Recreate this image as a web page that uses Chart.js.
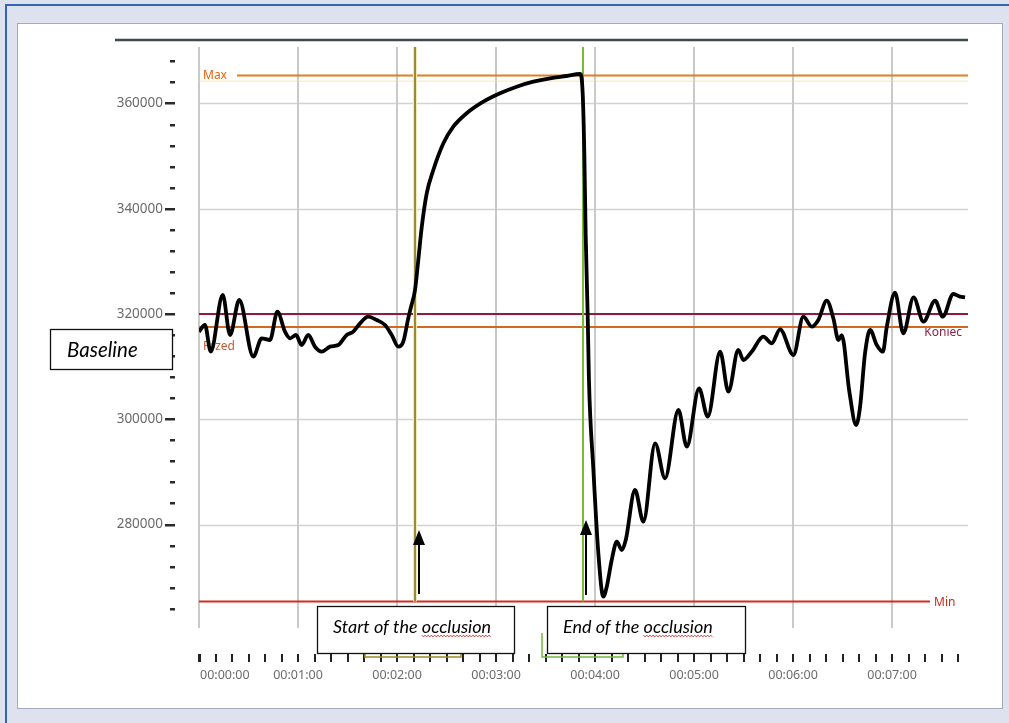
<!DOCTYPE html>
<html><head><meta charset="utf-8">
<script src="https://cdn.jsdelivr.net/npm/chart.js@4.4.1/dist/chart.umd.min.js"></script>
<style>html,body{margin:0;padding:0;background:#dde2ee;}canvas{display:block;}</style>
</head><body><canvas id="c" width="1009" height="723"></canvas>
<script>
// ---- data ----
const timeSec = [0,3.6,7.1,14.4,18.8,24.4,32.9,38,43,47.5,52.1,55.2,58.8,62.2,66.2,70.3,74.4,79.4,84.4,89.5,93.5,97.6,102.6,107.7,112.7,116.8,120.8,123.8,126.8,128.5,130.9,132.9,135,138,142,148.1,154.1,162.2,172.3,182.4,192.5,202.6,212.7,222.8,230.9,232.5,233.5,234.3,235.6,236.3,239,242,245,247.1,250.1,253.2,256.2,258.6,264.2,269.3,276.4,282.4,290.5,295.6,303,308.3,315.8,320.8,326.8,329.9,334.9,342,347.1,352.1,360.2,366.2,371.3,375.3,380.4,384.4,387.5,389.5,394.1,398.2,400.6,403.6,406.7,410.7,414.4,416.8,421.8,426.8,433,439,446.1,450.7,457.1,461.2,464.2];
const signal = [316640,317910,312840,323610,316010,322660,311890,315380,315060,320440,316640,315380,316010,314110,316010,313790,312840,313790,314110,316010,316640,318230,319490,318860,317910,316010,313790,314740,319180,321390,324560,330260,336590,342930,347360,352430,355590,358130,360330,361930,363190,364140,364780,365220,365600,361930,350530,335330,318860,307460,290360,274530,266290,268190,273260,276740,275160,277060,286560,280540,295430,288780,301760,294790,305880,300490,312840,305240,313160,311260,312840,315690,314430,317090,312210,319490,317590,318860,322530,319180,315060,316000,305260,298910,302390,312530,316960,314110,312840,317590,324050,316330,323170,318540,322530,319490,323800,323290,323170];

const xGridSec = [0,60,120,180,240,300,360,420];
const xTickLabels = ['00:00:00','00:01:00','00:02:00','00:03:00','00:04:00','00:05:00','00:06:00','00:07:00'];
const yMajorValues = [280000,300000,320000,340000,360000];
const yTickLabels = ['280000','300000','320000','340000','360000'];
const yMinorValues = [264000,268000,272000,276000,284000,288000,292000,296000,304000,308000,312000,316000,324000,328000,332000,336000,344000,348000,352000,356000,364000,368000];

const levelMax = 365320, levelMin = 265370, levelPrzed = 317530, levelKoniec = 320000;
const occlusionStart = 130.9, occlusionEnd = 232.7;
const xMin = 0, xMax = 466, yMin = 260340, yMax = 370730;

const W = 1009, H = 723;
const FONT = '"Noto Sans", "Open Sans", sans-serif';

function pts(xs, ys){ return xs.map((x,i)=>({x:x, y:ys[i]})); }

const decor = {
  id:'decor',
  beforeDraw(chart){
    const c = chart.ctx;
    c.save();
    c.fillStyle = '#dde2ee'; c.fillRect(0,0,W,H);
    c.strokeStyle = '#3465b3'; c.lineWidth = 2;
    c.beginPath(); c.moveTo(6,H); c.lineTo(6,5); c.lineTo(W,5); c.stroke();
    c.fillStyle = '#ffffff'; c.fillRect(17,23,986,686);
    c.strokeStyle = '#a3abbb'; c.lineWidth = 1; c.strokeRect(17.5,23.5,985,685);
    c.restore();
  },
  beforeDatasetsDraw(chart){
    const c = chart.ctx, xs = chart.scales.x, ys = chart.scales.y, a = chart.chartArea;
    c.save();
    // top dark line
    c.strokeStyle = '#3e494c'; c.lineWidth = 2.5;
    c.beginPath(); c.moveTo(115, a.top-7); c.lineTo(a.right, a.top-7); c.stroke();
    // grid
    c.strokeStyle = '#d2d2d2'; c.lineWidth = 1.6;
    yMajorValues.forEach(v=>{ const y = Math.round(ys.getPixelForValue(v))+0.5; c.beginPath(); c.moveTo(a.left,y); c.lineTo(a.right,y); c.stroke(); });
    c.strokeStyle = '#c9c9c9'; c.lineWidth = 2;
    xGridSec.forEach(t=>{ const x = Math.round(xs.getPixelForValue(t)); c.beginPath(); c.moveTo(x,a.top); c.lineTo(x,a.bottom); c.stroke(); });
    // level labels
    c.font = '12px ' + FONT; c.textBaseline = 'middle';
    c.fillStyle = '#e8620c'; c.textAlign='left';
    c.fillText('Max', a.left+4, ys.getPixelForValue(levelMax));
    c.fillStyle = '#c5592e';
    c.fillText('Przed', a.left+4, ys.getPixelForValue(levelPrzed)+20);
    c.fillStyle = '#8e1f40'; c.textAlign='right';
    c.fillText('Koniec', a.right-6, ys.getPixelForValue(levelPrzed)+6);
    c.fillStyle = '#d02a1a'; c.textAlign='left';
    c.fillText('Min', xs.getPixelForValue(xMax-23)+4, ys.getPixelForValue(levelMin)+1);
    c.restore();
  },
  afterDraw(chart){
    const c = chart.ctx, xs = chart.scales.x, ys = chart.scales.y, a = chart.chartArea;
    c.save();
    // y axis labels and dashes
    c.font = '13.5px ' + FONT; c.fillStyle = '#6b6b6b'; c.textAlign='right'; c.textBaseline='middle';
    yMajorValues.forEach((v,i)=>{
      const y = ys.getPixelForValue(v);
      c.fillText(yTickLabels[i], 163, y);
      c.fillStyle = '#2a2a2a'; c.fillRect(165, Math.round(y)-1, 10, 2.5); c.fillStyle = '#6b6b6b';
    });
    c.fillStyle = '#2a2a2a';
    yMinorValues.forEach(v=>{ const y = ys.getPixelForValue(v); c.fillRect(170, Math.round(y)-1, 5, 2.5); });
    // x axis ticks every 10 s
    c.fillStyle = '#222';
    for (let t=0; t<=460; t+=10){ const x = Math.round(xs.getPixelForValue(t)); c.fillRect(x-1, 654, t===0?3:2, 8); }
    // brackets
    c.lineWidth = 1.5;
    c.strokeStyle = '#a08a1c';
    c.beginPath(); c.moveTo(365,653); c.lineTo(365,657); c.lineTo(461,657); c.lineTo(461,647); c.stroke();
    c.strokeStyle = '#72bb3a';
    c.beginPath(); c.moveTo(542,633); c.lineTo(542,657); c.lineTo(623,657); c.lineTo(623,652); c.stroke();
    // x labels
    c.font = '12.5px ' + FONT; c.fillStyle = '#6b6b6b'; c.textBaseline='middle';
    xGridSec.forEach((t,i)=>{
      const x = xs.getPixelForValue(t);
      if (i===0){ c.textAlign='left'; c.fillText(xTickLabels[i], x+1, 675); }
      else { c.textAlign='center'; c.fillText(xTickLabels[i], x, 675); }
    });
    // arrows
    function arrow(x, y0, y1){
      c.strokeStyle='#000'; c.fillStyle='#000'; c.lineWidth=2;
      c.beginPath(); c.moveTo(x,y0); c.lineTo(x,y1+12); c.stroke();
      c.beginPath(); c.moveTo(x,y1); c.lineTo(x-6,y1+15); c.lineTo(x+6,y1+15); c.closePath(); c.fill();
    }
    arrow(Math.round(xs.getPixelForValue(occlusionStart))+4, 594, 530);
    arrow(Math.round(xs.getPixelForValue(occlusionEnd))+3, 595, 520);
    // boxes
    function box(x,y,w,h,text,tx,ty,size,wavyWord){
      c.fillStyle='#fff'; c.fillRect(x,y,w,h);
      c.strokeStyle='#111'; c.lineWidth=1.3; c.strokeRect(x+0.5,y+0.5,w,h);
      c.font = 'italic ' + size + 'px Lato, "Open Sans", sans-serif';
      c.fillStyle='#000'; c.textAlign='left'; c.textBaseline='alphabetic';
      c.fillText(text, tx, ty);
      if (wavyWord){
        const idx = text.indexOf(wavyWord);
        const sx = tx + c.measureText(text.slice(0,idx)).width;
        const ex = sx + c.measureText(wavyWord).width;
        c.strokeStyle='#d0302a'; c.lineWidth=0.9;
        c.beginPath();
        let up = true;
        for (let px=sx; px<=ex; px+=1.6){ c.lineTo(px, ty+3 + (up?-0.9:0.9)); up=!up; }
        c.stroke();
      }
    }
    box(50,329,122,40,'Baseline',67,357,20.5,null);
    box(317,606,197,47,'Start of the occlusion',333,633,18,'occlusion');
    box(547,606,198,47,'End of the occlusion',563,633,18,'occlusion');
    c.restore();
  }
};

const lvl = (x0,x1,v)=>[{x:x0,y:v},{x:x1,y:v}];

new Chart(document.getElementById('c'), {
  type:'line',
  data:{ datasets:[
    { label:'signal', data: pts(timeSec, signal), borderColor:'#000', borderWidth:3.8, pointRadius:0, cubicInterpolationMode:'monotone', order:0 },
    { label:'maxShadow', data: lvl(0,xMax,levelMax-1100), borderColor:'rgba(246,226,150,0.5)', borderWidth:1.5, pointRadius:0, order:5 },
    { label:'Max', data: lvl(23,xMax,levelMax), borderColor:'#e0801c', borderWidth:2, pointRadius:0, order:4 },
    { label:'Koniec', data: lvl(xMin,xMax,levelKoniec), borderColor:'#8c1c3e', borderWidth:2.2, pointRadius:0, order:4 },
    { label:'Przed', data: lvl(xMin,xMax,levelPrzed), borderColor:'#d4681e', borderWidth:1.8, pointRadius:0, order:4 },
    { label:'Min', data: lvl(xMin,xMax-23,levelMin), borderColor:'#d42b1a', borderWidth:2, pointRadius:0, order:4 },
    { label:'startHalo', data:[{x:occlusionStart,y:yMax},{x:occlusionStart,y:levelMin}], borderColor:'#f3eab8', borderWidth:4, pointRadius:0, order:3 },
    { label:'start', data:[{x:occlusionStart,y:yMax},{x:occlusionStart,y:levelMin}], borderColor:'#7c6d0e', borderWidth:1.5, pointRadius:0, order:2 },
    { label:'end', data:[{x:occlusionEnd,y:yMax},{x:occlusionEnd,y:levelMin}], borderColor:'#74bd3a', borderWidth:2, pointRadius:0, order:2 }
  ]},
  options:{
    responsive:false, devicePixelRatio:1, animation:false,
    layout:{ padding:{ left:199, right:41, top:47, bottom:95 } },
    plugins:{ legend:{display:false}, tooltip:{enabled:false} },
    scales:{
      x:{ type:'linear', display:false, min:xMin, max:xMax },
      y:{ type:'linear', display:false, min:yMin, max:yMax }
    }
  },
  plugins:[decor]
});
</script>
</body></html>
